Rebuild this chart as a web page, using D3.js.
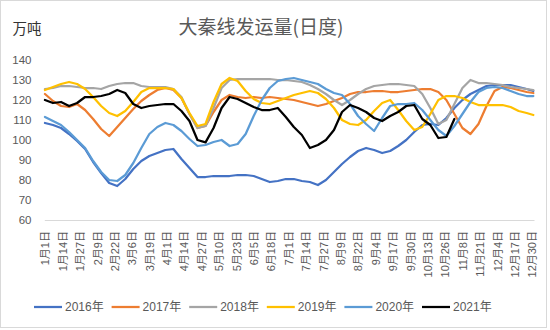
<!DOCTYPE html>
<html>
<head>
<meta charset="utf-8">
<script src="https://cdn.jsdelivr.net/npm/d3@7"></script>
<style>
  html, body { margin: 0; padding: 0; background: #fff; }
  svg { display: block; }
  text { font-family: "Liberation Sans", "Noto Sans CJK SC", sans-serif; }
</style>
</head>
<body>
<svg id="chart" width="550" height="330"></svg>
<script>
// ---- data ----
const title = "大秦线发运量(日度)";
const unitLabel = "万吨";
const tickDays = [0,13,26,39,52,65,78,91,104,117,130,143,156,169,182,195,208,221,234,247,260,273,286,299,312,325,338,351,364];
const tickLabels = ["1月1日","1月14日","1月27日","2月9日","2月22日","3月6日","3月19日","4月1日","4月14日","4月27日","5月10日","5月23日","6月5日","6月18日","7月1日","7月14日","7月27日","8月9日","8月22日","9月4日","9月17日","9月30日","10月13日","10月26日","11月8日","11月21日","12月4日","12月17日","12月30日"];
const yTicks = [60,70,80,90,100,110,120,130,140];
const seriesNames = ["2016年","2017年","2018年","2019年","2020年","2021年"];
const days = [0,6,12,18,24,30,36,42,48,54,60,66,72,78,84,90,96,102,108,114,120,126,132,138,144,150,156,162,168,174,180,186,192,198,204,210,216,222,228,234,240,246,252,258,264,270,276,282,288,294,300,306,312,318,324,330,336,342,348,354,360,365];
const v2016 = [108.5,107.5,106,103,99.5,95.5,89,83.5,78.5,77,
  80.5,85.5,89.5,92,93.5,95,95.5,90.5,86,81.5,
  81.5,82,82,82,82.5,82.5,82,80.5,79,79.5,
  80.5,80.5,79.5,79,77.5,80,84,88,91.5,94.5,
  96,95,93.5,94.5,97,100,104,107.5,108,107.5,
  111,116,120,123,125,127,127.5,127.5,127.5,126.5,
  125.5,124.5];
const v2017 = [123,119.5,117,116.5,118,115,110.5,105.5,102,106.5,
  111,115.5,119.5,122.5,125,126,125,121,113,106,
  107,114,120,122.5,121.5,121,121.5,121,121.5,121,
  120.5,120,119,118,117,118,119.5,121,123,124,
  124,124.5,124.5,124,124,124.5,125,125.5,125.5,124,
  120,113,106,103,108,117,124.5,126.5,126,125,
  124,123.5];
const v2018 = [125.5,126,127,127,126.5,126,126,125.5,127,128,
  128.5,128.5,127,126.5,126.5,126.5,125.5,121.5,113,106,
  107,116,126,130,130.5,130.5,130.5,130.5,130.5,130,
  130,129.5,129,127.5,125.5,123,120,117.5,120,123,
  125.5,127,127.5,128,128,127.5,127,123,116,108,
  110,118,126,130,128.5,128.5,128,127.5,126.5,126,
  125.5,125];
const v2019 = [125,126.5,128,129,128,125.5,121.5,117,113.5,112,
  114.5,119,124,126,126,126,125.5,121,113.5,107,
  108,119,128,131,129.5,124.5,120.5,118.5,118,119.5,
  121,122.5,123.5,124.5,123.5,120.5,116,110,108,107.5,
  110,114.5,118.5,120,115,109.5,105,106.5,113,120,
  122,122,121,119,117.5,117.5,117.5,117.5,116.5,114.5,
  113.5,112.5];
const v2020 = [111.5,109.5,107.5,104,100,96,89.5,84,80,79.5,
  82.5,88.5,96,103,106.5,108.5,107.5,104.5,100.5,97,
  97.5,99,100,97,98,103,112,120,126,129.5,
  130.5,131,130,129,128,125.5,123.5,122.5,118,112,
  108,104.5,111,117,118,118,118.5,115,110,105,
  102,107,113,119,124,126,126.5,126,124.5,123,
  122,122];
const v2021 = [120,118.5,119,117,118.5,121.5,121.5,122,123,125,
  123.5,118,116,117,117.5,118,118,114.5,109.5,100,
  98.8,106,116,121.5,120.5,118.5,116.5,115,115,116,
  111.5,106.5,102.5,96,97.5,100,105,114,117.5,116,
  114,111,109.5,112,114,117,117.5,110.5,107.5,101,
  101.5,110.5,null,null,null,null,null,null,null,null,
  null,null];
const seriesValues = [v2016, v2017, v2018, v2019, v2020, v2021];
const colors = ["#4472C4","#ED7D31","#A5A5A5","#FFC000","#5B9BD5","#000000"];

// ---- layout ----
const svg = d3.select("#chart");
const plotLeft = 44.3, plotRight = 534, plotTop = 60, plotBottom = 220;

svg.append("rect").attr("x",0.5).attr("y",0.5).attr("width",546).attr("height",327)
  .attr("fill","#fff").attr("stroke","#d9d9d9").attr("stroke-width",1);

const x = d3.scaleLinear().domain([-0.5, 365.5]).range([plotLeft, plotRight]);
const y = d3.scaleLinear().domain([60, 140]).range([plotBottom, plotTop]);

// title + unit
svg.append("text").attr("x", 261).attr("y", 34).attr("text-anchor","middle")
  .style("font-family", "'Noto Sans CJK SC', sans-serif")
  .attr("font-size", 19).attr("fill", "#595959").text(title);
svg.append("text").attr("x", 12.5).attr("y", 34)
  .style("font-family", "'Noto Sans CJK SC', sans-serif")
  .attr("font-size", 14.5).attr("fill", "#333").text(unitLabel);

// y axis (labels only)
const yAxis = d3.axisLeft(y).tickValues(yTicks).tickSize(0).tickPadding(0);
const gy = svg.append("g").attr("transform", `translate(31.5,0)`).call(yAxis);
gy.select(".domain").remove();
gy.selectAll("text").attr("font-size", 11.5).attr("fill", "#595959")
  .style("font-family", "'Liberation Sans', sans-serif");

// x axis
const xAxis = d3.axisBottom(x).tickValues(tickDays)
  .tickFormat((d, i) => tickLabels[i]).tickSize(0);
const gx = svg.append("g").attr("transform", `translate(0,${plotBottom})`).call(xAxis);
gx.select(".domain").attr("stroke", "#d9d9d9").attr("stroke-width", 1);
gx.selectAll("text")
  .attr("font-size", 11).attr("fill", "#595959")
  .attr("transform", "rotate(-90)")
  .attr("text-anchor", "end")
  .attr("x", -11).attr("y", 0).attr("dy", "0.35em");

// lines
const line = d3.line()
  .defined(d => d[1] != null)
  .x(d => x(d[0])).y(d => y(d[1]));
seriesValues.forEach((vals, si) => {
  svg.append("path")
    .datum(days.map((d, i) => [d, vals[i]]))
    .attr("fill", "none")
    .attr("stroke", colors[si])
    .attr("stroke-width", 2.25)
    .attr("stroke-linejoin", "round")
    .attr("stroke-linecap", "round")
    .attr("d", line);
});

// legend
const legend = svg.append("g").attr("transform", "translate(34,307)");
seriesNames.forEach((name, i) => {
  const g = legend.append("g").attr("transform", `translate(${i * 77.6},0)`);
  g.append("line").attr("x1", 0).attr("x2", 28).attr("y1", 0).attr("y2", 0)
    .attr("stroke", colors[i]).attr("stroke-width", 2.25);
  g.append("text").attr("x", 31).attr("y", 0).attr("dy", "0.36em")
    .attr("font-size", 12).attr("fill", "#595959").text(name);
});
</script>
</body>
</html>
